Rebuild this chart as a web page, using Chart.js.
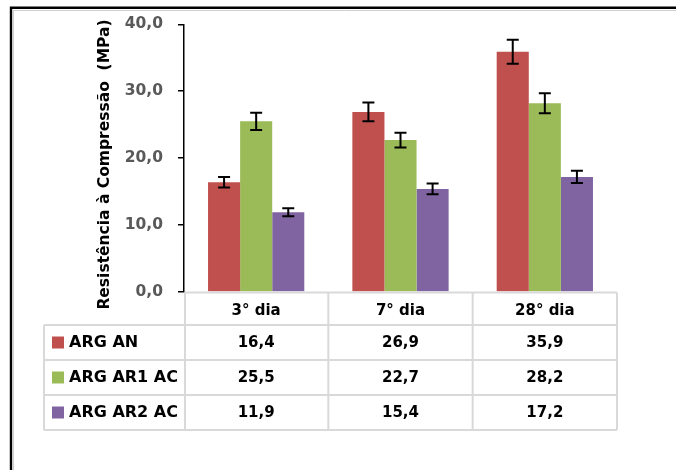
<!DOCTYPE html>
<html>
<head>
<meta charset="utf-8">
<script src="https://cdn.jsdelivr.net/npm/chart.js@4.4.1/dist/chart.umd.min.js"></script>
<style>
  body { margin: 0; background: #fff; }
  #wrap { width: 676px; height: 470px; }
</style>
</head>
<body>
<div id="wrap"><canvas id="chart" width="676" height="470"></canvas></div>
<script>
// data
const categories = ['3° dia', '7° dia', '28° dia'];
const seriesNames = ['ARG AN', 'ARG AR1 AC', 'ARG AR2 AC'];
const argAN = [16.4, 26.9, 35.9];
const argAR1 = [25.5, 22.7, 28.2];
const argAR2 = [11.9, 15.4, 17.2];
// error bar half-lengths (MPa), estimated
const errAN = [0.8, 1.4, 1.8];
const errAR1 = [1.3, 1.1, 1.5];
const errAR2 = [0.6, 0.8, 0.9];
const yMin = 0, yMax = 40, yStep = 10;
const yTitle = 'Resistência à Compressão  (MPa)';

const colors = ['#C0504D', '#9BBB59', '#8064A2'];
const FONT = '"DejaVu Sans", sans-serif';

function fmt(v) {
  return v.toFixed(1).replace('.', ',');
}

// outer frame (only top and left edges show in the crop) + axis title
const framePlugin = {
  id: 'frame',
  beforeDraw(chart) {
    const ctx = chart.ctx;
    ctx.save();
    ctx.fillStyle = '#fff';
    ctx.fillRect(0, 0, chart.width, chart.height);
    ctx.strokeStyle = '#D0D0D0';
    ctx.lineWidth = 1;
    ctx.beginPath();
    ctx.moveTo(13, 10.5); ctx.lineTo(chart.width, 10.5);
    ctx.moveTo(13.5, 10); ctx.lineTo(13.5, chart.height);
    ctx.stroke();
    ctx.strokeStyle = '#000';
    ctx.lineWidth = 2.4;
    ctx.beginPath();
    ctx.moveTo(chart.width, 7.8);
    ctx.lineTo(11, 7.8);
    ctx.lineTo(11, chart.height);
    ctx.stroke();

    // y title, centred a bit below the plot middle as in the original
    ctx.translate(105, 164.5);
    ctx.rotate(-Math.PI / 2);
    ctx.fillStyle = '#000';
    ctx.font = 'bold 15.5px ' + FONT;
    ctx.textAlign = 'center';
    ctx.textBaseline = 'middle';
    ctx.fillText(yTitle, 0, 0);
    ctx.restore();
  }
};

// error bars with caps
const errorPlugin = {
  id: 'errorBars',
  afterDatasetsDraw(chart) {
    const ctx = chart.ctx;
    const y = chart.scales.y;
    ctx.save();
    ctx.strokeStyle = '#000';
    ctx.lineWidth = 2;
    chart.data.datasets.forEach((ds, i) => {
      const meta = chart.getDatasetMeta(i);
      meta.data.forEach((bar, j) => {
        const v = ds.data[j];
        const e = ds.errors[j];
        const top = y.getPixelForValue(v + e);
        const bot = y.getPixelForValue(v - e);
        ctx.beginPath();
        ctx.moveTo(bar.x, top); ctx.lineTo(bar.x, bot);
        ctx.moveTo(bar.x - 6, top); ctx.lineTo(bar.x + 6, top);
        ctx.moveTo(bar.x - 6, bot); ctx.lineTo(bar.x + 6, bot);
        ctx.stroke();
      });
    });
    ctx.restore();
  }
};

// data table under the plot
const tablePlugin = {
  id: 'dataTable',
  afterDraw(chart) {
    const ctx = chart.ctx;
    const area = chart.chartArea;
    const x = chart.scales.x;
    const n = categories.length;
    const cols = [area.left + 1];
    for (let i = 0; i < n - 1; i++) {
      cols.push((x.getPixelForValue(i) + x.getPixelForValue(i + 1)) / 2);
    }
    cols.push(area.right);
    const tableLeft = 44;
    const headTop = area.bottom + 0.5;
    const rows = [headTop + 32.5];
    for (let r = 0; r < seriesNames.length; r++) rows.push(rows[r] + 35);

    ctx.save();
    ctx.strokeStyle = '#D9D9D9';
    ctx.lineWidth = 2;
    ctx.beginPath();
    ctx.moveTo(cols[0], headTop); ctx.lineTo(area.right, headTop);
    rows.forEach(ry => { ctx.moveTo(tableLeft, ry); ctx.lineTo(area.right, ry); });
    cols.forEach(cx => { ctx.moveTo(cx, headTop); ctx.lineTo(cx, rows[rows.length - 1]); });
    ctx.moveTo(tableLeft, rows[0]); ctx.lineTo(tableLeft, rows[rows.length - 1]);
    ctx.stroke();

    ctx.textBaseline = 'middle';
    chart.data.datasets.forEach((ds, r) => {
      const cy = (rows[r] + rows[r + 1]) / 2;
      ctx.fillStyle = colors[r];
      ctx.fillRect(52, cy - 6, 12, 12);
      ctx.fillStyle = '#000';
      ctx.font = 'bold 16px ' + FONT;
      ctx.textAlign = 'left';
      ctx.fillText(ds.label, 69, cy + 0.5);
      ctx.font = 'bold 15px ' + FONT;
      ctx.textAlign = 'center';
      ds.data.forEach((v, j) => {
        ctx.fillText(fmt(v), x.getPixelForValue(j), cy + 0.5);
      });
    });
    ctx.restore();
  }
};

new Chart(document.getElementById('chart'), {
  type: 'bar',
  data: {
    labels: categories,
    datasets: [
      { label: seriesNames[0], data: argAN, errors: errAN, backgroundColor: colors[0] },
      { label: seriesNames[1], data: argAR1, errors: errAR1, backgroundColor: colors[1] },
      { label: seriesNames[2], data: argAR2, errors: errAR2, backgroundColor: colors[2] }
    ]
  },
  options: {
    responsive: false,
    animation: false,
    devicePixelRatio: 1,
    layout: { padding: { left: 88, top: 24, right: 59, bottom: 41 } },
    datasets: { bar: { categoryPercentage: 0.667, barPercentage: 1 } },
    plugins: {
      legend: { display: false },
      tooltip: { enabled: false }
    },
    scales: {
      x: {
        grid: { display: false },
        border: { display: false },
        ticks: { color: '#000', font: { family: FONT, size: 15, weight: 'bold' }, padding: 2 },
        afterFit(scale) { scale.height = 137; }
      },
      y: {
        min: yMin,
        max: yMax,
        ticks: {
          stepSize: yStep,
          color: '#595959',
          padding: 15,
          font: { family: FONT, size: 15.5, weight: 'bold' },
          callback: v => fmt(v)
        },
        grid: { drawOnChartArea: false, tickLength: 6, color: '#000', lineWidth: 1.5 },
        border: { color: '#000', width: 1.5 },
        afterFit(scale) { scale.width = 96; }
      }
    }
  },
  plugins: [framePlugin, errorPlugin, tablePlugin]
});
</script>
</body>
</html>
